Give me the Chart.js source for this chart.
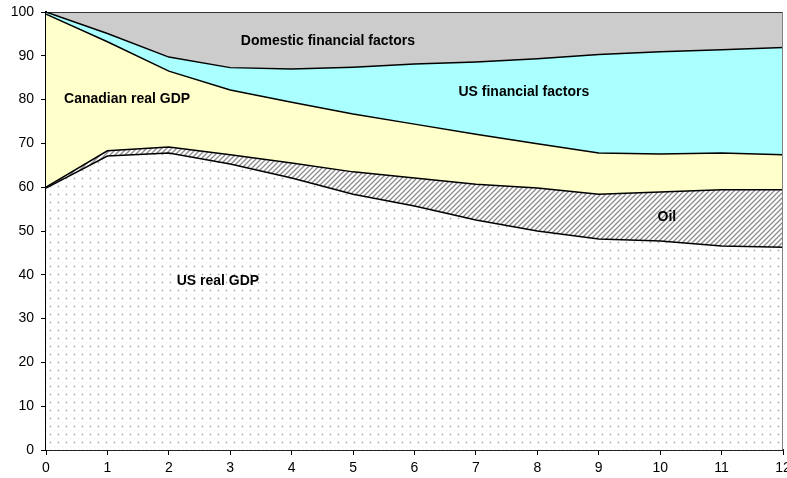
<!DOCTYPE html>
<html>
<head>
<meta charset="utf-8">
<script src="https://cdn.jsdelivr.net/npm/chart.js@4/dist/chart.umd.min.js"></script>
<style>
  html, body { margin: 0; padding: 0; background: #fff; }
  #wrap { width: 787px; height: 478px; }
</style>
</head>
<body>
<div id="wrap"><canvas id="decompChart" width="787" height="478"></canvas></div>
<script>
// horizon (quarters)
const horizons = ['0', '1', '2', '3', '4', '5', '6', '7', '8', '9', '10', '11', '12'];

// share of variance (%), stacked from bottom
const usRealGdp     = [59.8, 67.1, 67.8, 65.3, 62.1, 58.4, 55.7, 52.5, 50.0, 48.2, 47.7, 46.6, 46.3];
const oil           = [0.2, 1.2, 1.4, 2.1, 3.4, 5.1, 6.4, 8.2, 9.8, 10.2, 11.2, 12.8, 13.1];
const canRealGdp    = [39.5, 24.9, 17.3, 14.8, 13.9, 13.2, 12.3, 11.4, 10.1, 9.4, 8.7, 8.4, 8.0];
const usFinancial   = [0.5, 1.9, 3.2, 5.1, 7.6, 10.7, 13.7, 16.5, 19.4, 22.5, 23.3, 23.6, 24.5];
const domFinancial  = [0.0, 4.9, 10.3, 12.7, 13.0, 12.6, 11.9, 11.4, 10.7, 9.7, 9.1, 8.6, 8.1];

const yTicks = [0, 10, 20, 30, 40, 50, 60, 70, 80, 90, 100];

// area labels: [text, x, y] in data units
const areaLabels = [
  ['Domestic financial factors', 4.59, 93.4],
  ['US financial factors', 7.78, 81.7],
  ['Canadian real GDP', 1.32, 80.1],
  ['Oil', 10.11, 53.2],
  ['US real GDP', 2.80, 38.6]
];

const fontFamily = '"Liberation Sans", Arial, sans-serif';

function dotPattern() {
  const c = document.createElement('canvas');
  c.width = 8; c.height = 8;
  const g = c.getContext('2d');
  g.fillStyle = '#fff';
  g.fillRect(0, 0, 8, 8);
  // main dot, slightly soft
  g.fillStyle = '#e4e4e4';
  g.fillRect(1, 2, 3, 1);
  g.fillRect(2, 1, 1, 3);
  g.fillStyle = '#a6a6a6';
  g.fillRect(2, 2, 1, 1);
  // faint in-between dot
  g.fillStyle = '#e6e6e6';
  g.fillRect(6, 6, 1, 1);
  return g.createPattern(c, 'repeat');
}

function hatchPattern() {
  const c = document.createElement('canvas');
  c.width = 5; c.height = 5;
  const g = c.getContext('2d');
  g.fillStyle = '#fff';
  g.fillRect(0, 0, 5, 5);
  g.strokeStyle = '#8c8c8c';
  g.lineWidth = 1.3;
  g.beginPath();
  g.moveTo(-1, 6); g.lineTo(6, -1);
  g.moveTo(-1, 1); g.lineTo(1, -1);
  g.moveTo(4, 6); g.lineTo(6, 4);
  g.stroke();
  return g.createPattern(c, 'repeat');
}

const labelPlugin = {
  id: 'areaLabels',
  afterDatasetsDraw(chart) {
    const { ctx, scales } = chart;
    ctx.save();
    ctx.font = 'bold 14px ' + fontFamily;
    ctx.fillStyle = '#000';
    ctx.textAlign = 'center';
    ctx.textBaseline = 'middle';
    areaLabels.forEach(([t, x, y]) => {
      ctx.fillText(t, scales.x.getPixelForValue(x), scales.y.getPixelForValue(y));
    });
    // right frame edge
    const a = chart.chartArea;
    ctx.strokeStyle = '#808080';
    ctx.lineWidth = 1;
    ctx.beginPath();
    ctx.moveTo(a.right - 0.5, a.top);
    ctx.lineTo(a.right - 0.5, a.bottom);
    ctx.stroke();
    ctx.restore();
  }
};

function area(label, data, bg, fill) {
  return {
    label: label,
    data: data,
    backgroundColor: bg,
    borderColor: '#000',
    borderWidth: 1.5,
    pointRadius: 0,
    tension: 0,
    fill: fill
  };
}

const ctx = document.getElementById('decompChart').getContext('2d');
new Chart(ctx, {
  type: 'line',
  data: {
    labels: horizons,
    datasets: [
      area('US real GDP', usRealGdp, dotPattern(), 'origin'),
      area('Oil', oil, hatchPattern(), '-1'),
      area('Canadian real GDP', canRealGdp, '#ffffcc', '-1'),
      area('US financial factors', usFinancial, '#aaffff', '-1'),
      area('Domestic financial factors', domFinancial, '#cccccc', '-1')
    ]
  },
  options: {
    responsive: false,
    animation: false,
    layout: { padding: { top: 12, right: 4, left: 0, bottom: 0 } },
    plugins: {
      legend: { display: false },
      tooltip: { enabled: false }
    },
    scales: {
      x: {
        offset: false,
        grid: { drawOnChartArea: false, drawTicks: true, tickLength: 5, color: '#000' },
        border: { display: true, color: '#222', width: 2 },
        ticks: {
          color: '#000',
          font: { family: fontFamily, size: 14 },
          maxRotation: 0,
          autoSkip: false,
          padding: 5
        },
        afterFit(s) { s.height = 28; s.paddingLeft = 0; s.paddingRight = 0; }
      },
      y: {
        stacked: true,
        min: 0,
        max: 100,
        afterBuildTicks(s) { s.ticks = yTicks.map(v => ({ value: v })); },
        grid: { drawOnChartArea: false, drawTicks: true, tickLength: 5, color: '#000' },
        border: { display: true, color: '#000', width: 2 },
        ticks: {
          color: '#000',
          font: { family: fontFamily, size: 14 },
          padding: 7
        },
        afterFit(s) { s.width = 46; s.paddingTop = 0; s.paddingBottom = 0; }
      }
    }
  },
  plugins: [labelPlugin]
});
</script>
</body>
</html>
